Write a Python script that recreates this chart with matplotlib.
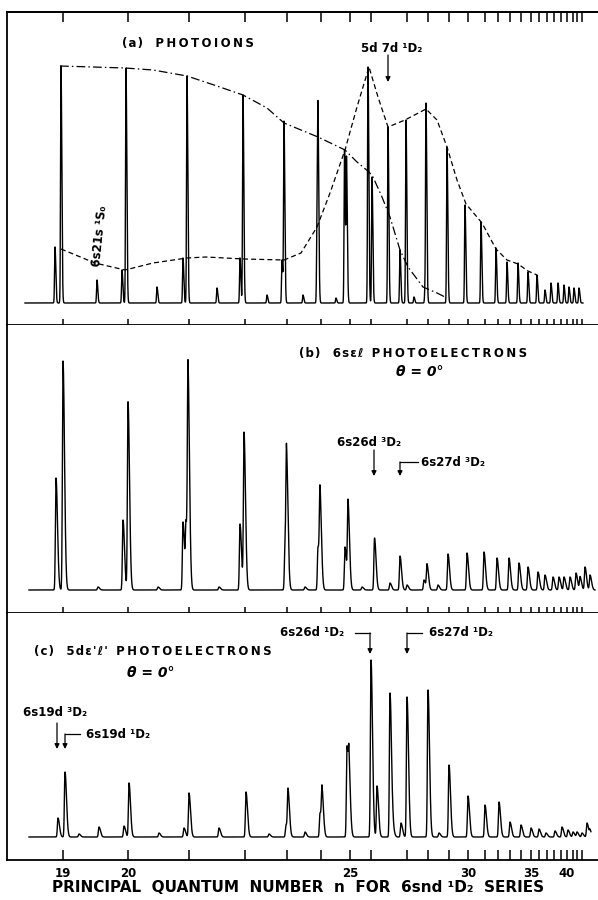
import numpy as np
import matplotlib
matplotlib.use("Agg")
import matplotlib.pyplot as plt

# ---------------- data (positions on photon-energy scan, arb. units; intensities arb. units)
tick_n = list(range(19, 44))
tick_pos = [63, 128, 189, 245, 287, 321, 350, 371, 407, 428, 449, 468, 485, 498,
            510, 521, 531, 539, 547, 554, 561, 567, 573, 577, 582]
label_n = [19, 20, 25, 30, 35, 40]

# panel (a) photoions: line positions and peak heights
a_pos = [55, 61, 97, 122, 126, 157, 183, 187, 217, 240, 243, 267, 282, 284, 303,
         317, 318, 336, 344.5, 346.5, 368, 372, 388, 400, 406, 414, 425, 426, 447,
         465, 481, 496, 507, 518, 528, 537, 545, 551, 558, 564, 569, 574, 579]
a_int = [56, 237, 23, 33, 235, 16, 45, 227, 15, 45, 208, 8, 43, 180, 8,
         76, 166, 5, 153, 140, 236, 126, 176, 53, 183, 6, 13, 194, 156,
         98, 81, 55, 41, 40, 31, 28, 13, 20, 20, 18, 16, 15, 15]
# envelopes in panel (a)
dash_pos = [61, 95, 125, 153, 187, 206, 244, 284, 301, 317, 330, 345, 357, 369,
            378, 388, 405, 426, 437, 447, 457, 466, 482, 496, 507, 518, 528, 537]
dash_int = [54, 40, 33, 40, 45, 46, 44, 43, 50, 76, 110, 153, 196, 236,
            206, 176, 183, 194, 183, 156, 123, 99, 80, 54, 43, 39, 32, 28]
dashdot_pos = [60, 125, 153, 187, 214, 243, 267, 284, 318, 345, 357, 369, 373,
               382, 390, 400, 408, 423, 437, 447]
dashdot_int = [237, 235, 233, 227, 218, 208, 195, 180, 166, 153, 141, 131, 126,
               106, 86, 53, 36, 16, 10, 5]

# panel (b) 6s eps-l photoelectrons
b_pos = [56, 63, 98, 123, 128, 158, 183, 186, 188, 219, 240, 244, 285, 286.5, 305,
         318, 320, 345, 348, 362, 374.5, 390, 400, 407, 424, 427, 438, 448, 467,
         484, 497, 509, 519, 528, 538, 545, 553, 559, 564, 570, 576, 580, 585, 590]
b_int = [112, 229, 3, 70, 188, 3, 68, 60, 205, 3, 66, 156, 45, 119, 3,
         43, 87, 43, 85, 3, 52, 7, 34, 5, 10, 25, 5, 36, 37,
         38, 32, 32, 27, 23, 18, 15, 13, 13, 13, 13, 17, 13, 23, 15]

# panel (c) 5d eps'-l' photoelectrons
c_pos = [58, 65, 79, 99, 124, 129, 159, 184, 189, 219, 246, 269, 286, 288, 305,
         320, 322, 347, 349, 371, 377, 390, 393, 401, 407, 428, 439, 449, 468,
         485, 499, 510, 521, 531, 539, 546, 555, 562, 568, 573, 577, 582, 587, 590]
c_int = [19, 65, 3, 10, 11, 54, 4, 9, 44, 9, 45, 3, 12, 44, 5,
         24, 42, 91, 52, 177, 51, 144, 7, 14, 140, 147, 4, 72, 41,
         32, 35, 15, 12, 9, 8, 4, 6, 10, 7, 5, 5, 4, 14, 6]

# ---------------- helpers
def spectrum(pos, inten, x, wl, wr):
    """Sum of asymmetric line profiles (steep low-energy side, tail to the right)."""
    y = np.zeros_like(x)
    for p, h in zip(pos, inten):
        d = x - p
        w = np.where(d < 0, wl, wr)
        y += h * np.exp(-0.5 * (d / w) ** 2)
    return y

def spaced(s, sep='\u200a'):
    return sep.join(s)

W, H = 598, 900
fig = plt.figure(figsize=(W / 100, H / 100), dpi=100)
plt.rcParams['font.family'] = ['DejaVu Sans']

XL = (7, 598)
def panel(top_px, bot_px, base_px):
    ax = fig.add_axes([XL[0] / W, (H - bot_px) / H, (W - XL[0]) / W, (bot_px - top_px) / H])
    ax.set_xlim(*XL)
    ax.set_ylim(-(bot_px - base_px), base_px - top_px)
    for s in ax.spines.values():
        s.set_linewidth(1.3)
    ax.spines['right'].set_visible(False)
    ax.set_yticks([])
    ax.set_xticks(tick_pos)
    ax.set_xticklabels([])
    return ax

ax_a = panel(12, 325, 303)
ax_b = panel(325, 613, 590)
ax_c = panel(613, 860, 837)

tk = dict(width=1.1, color='black')
ax_a.tick_params(axis='x', top=False, bottom=True, direction='inout', length=9, **tk)
ax_b.spines['top'].set_visible(False)
ax_b.tick_params(axis='x', bottom=True, top=False, direction='inout', length=9, **tk)
ax_c.spines['top'].set_visible(False)
ax_c.tick_params(axis='x', bottom=True, top=False, direction='in', length=7, pad=5, **tk)
ax_c.set_xticklabels([str(n) if n in label_n else '' for n in tick_n],
                     fontsize=8.5, fontweight='bold')

sec = ax_a.secondary_xaxis('top')
sec.set_xticks(tick_pos)
sec.set_xticklabels([])
sec.tick_params(direction='in', length=7, **tk)
sec.spines['top'].set_linewidth(1.3)

lw = 1.0
xa = np.arange(25, 583, 0.05)
ax_a.plot(xa, spectrum(a_pos, a_int, xa, 0.45, 0.8), color='black', lw=lw)
xb = np.arange(29, 595, 0.05)
ax_b.plot(xb, spectrum(b_pos, b_int, xb, 0.6, 1.5), color='black', lw=lw)
xc = np.arange(29, 591, 0.05)
ax_c.plot(xc, spectrum(c_pos, c_int, xc, 0.6, 1.5), color='black', lw=lw)

ax_a.plot(dash_pos, dash_int, color='black', lw=0.9, dashes=(4, 2.5))
ax_a.plot(dashdot_pos, dashdot_int, color='black', lw=0.9, dashes=(7, 2.5, 1.2, 2.5))

tf = dict(fontsize=8.5, fontweight='bold', color='black')
arw = dict(arrowstyle='-|>', color='black', lw=0.9, mutation_scale=7,
           shrinkA=0, shrinkB=0)

# panel a texts
ax_a.text(122, 260, spaced('(a)') + '   ' + spaced('PHOTOIONS', '\u2009'), ha='left', va='center', **tf)
ax_a.text(392, 255, '5d 7d ¹D₂', ha='center', va='center', **tf)
ax_a.annotate('', xy=(388, 221), xytext=(388, 248), arrowprops=arw)
ax_a.text(100, 67, '6s21s ¹S₀', ha='center', va='center', rotation=84, **tf)

# panel b texts
ax_b.text(299, 237, spaced('(b)') + '   ' + spaced('6sεℓ') + '  ' + spaced('PHOTOELECTRONS', '\u2009'),
          ha='left', va='center', **tf)
ax_b.text(420, 218, 'θ = 0°', ha='center', va='center', fontsize=10,
          fontstyle='italic', fontweight='bold')
ax_b.text(337, 148, '6s26d ³D₂', ha='left', va='center', **tf)
ax_b.annotate('', xy=(374, 114), xytext=(374, 140), arrowprops=arw)
ax_b.text(421, 128, '6s27d ³D₂', ha='left', va='center', **tf)
ax_b.plot([418, 400], [128, 128], color='black', lw=0.9)
ax_b.annotate('', xy=(400, 114), xytext=(400, 128), arrowprops=arw)

# panel c texts
ax_c.text(34, 186, spaced('(c)') + '   ' + spaced("5dε'ℓ'") + '  ' + spaced('PHOTOELECTRONS', '\u2009'),
          ha='left', va='center', **tf)
ax_c.text(151, 164, 'θ = 0°', ha='center', va='center', fontsize=10,
          fontstyle='italic', fontweight='bold')
ax_c.text(280, 204, '6s26d ¹D₂', ha='left', va='center', **tf)
ax_c.plot([355, 370], [204, 204], color='black', lw=0.9)
ax_c.annotate('', xy=(370, 183), xytext=(370, 204), arrowprops=arw)
ax_c.text(429, 204, '6s27d ¹D₂', ha='left', va='center', **tf)
ax_c.plot([422, 407], [204, 204], color='black', lw=0.9)
ax_c.annotate('', xy=(407, 183), xytext=(407, 204), arrowprops=arw)
ax_c.text(23, 125, '6s19d ³D₂', ha='left', va='center', **tf)
ax_c.annotate('', xy=(57, 88), xytext=(57, 114), arrowprops=arw)
ax_c.text(86, 103, '6s19d ¹D₂', ha='left', va='center', **tf)
ax_c.plot([80, 65], [103, 103], color='black', lw=0.9)
ax_c.annotate('', xy=(65, 88), xytext=(65, 103), arrowprops=arw)

fig.text(298 / W, 1 - 887 / H, 'PRINCIPAL  QUANTUM  NUMBER  n  FOR  6snd ¹D₂  SERIES',
         ha='center', va='center', fontsize=11, fontweight='bold')

fig.savefig('out.png', dpi=100)
